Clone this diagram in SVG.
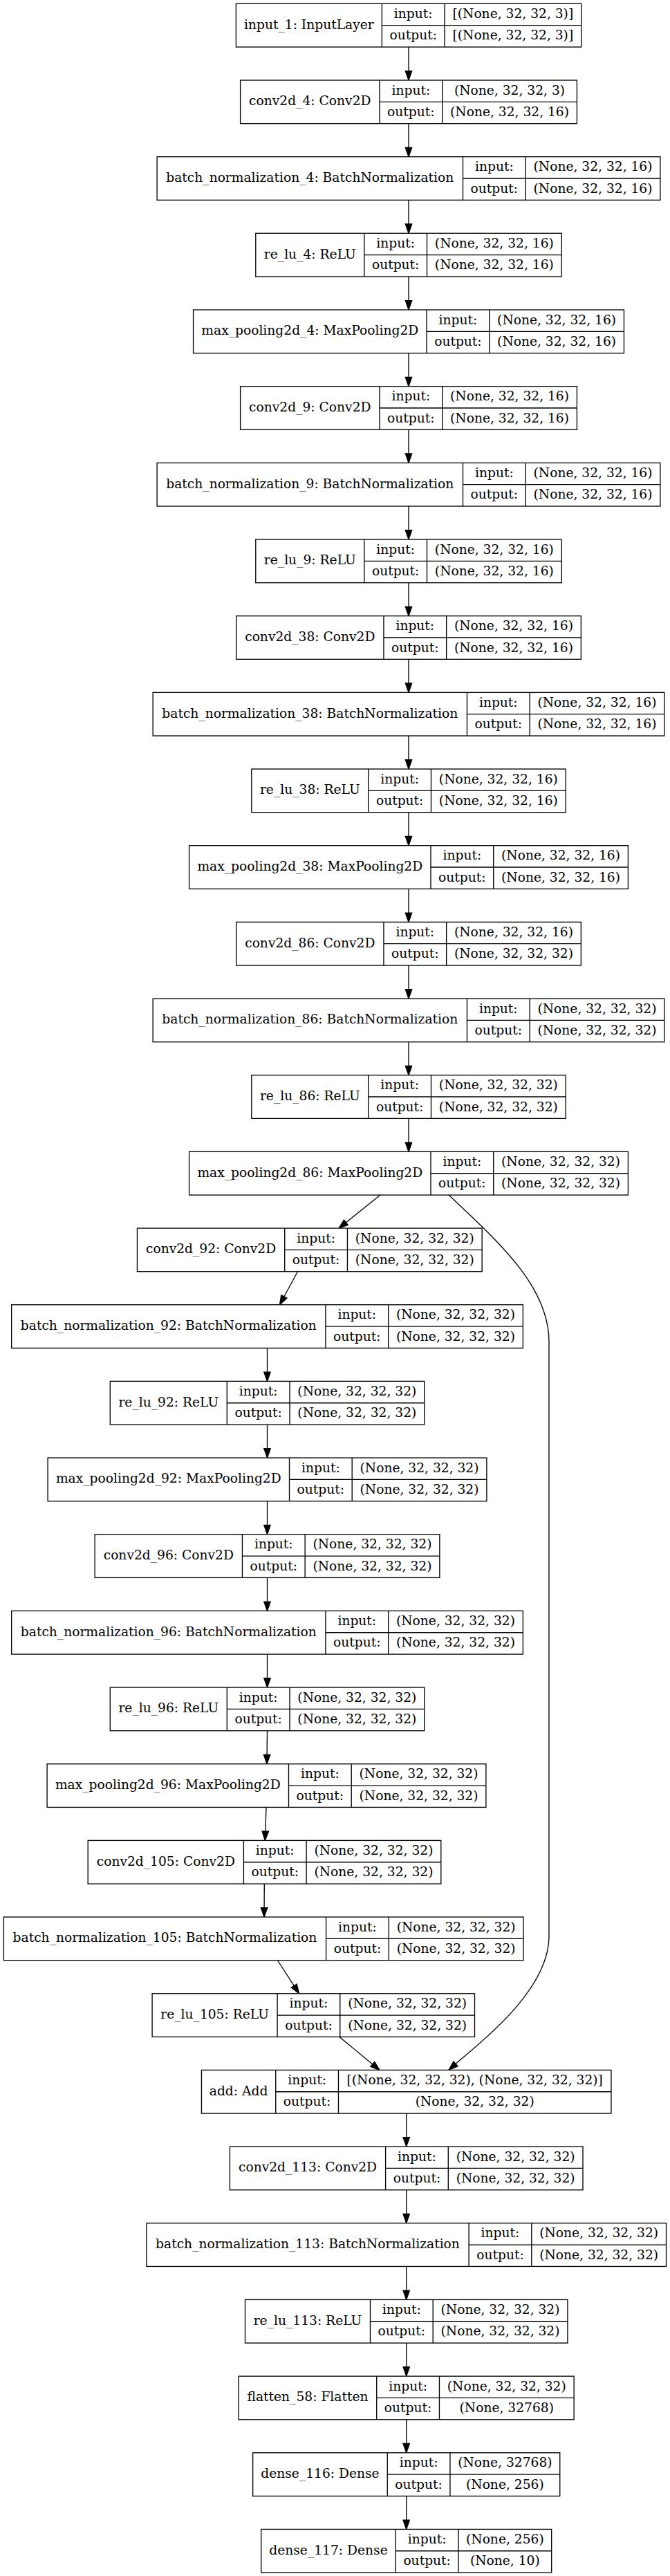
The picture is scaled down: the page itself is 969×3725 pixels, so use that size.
<svg xmlns="http://www.w3.org/2000/svg" width="969" height="3725" viewBox="0 0 969 3725">
<style>
.b{fill:#fff;stroke:#000;stroke-width:1.33}
.d{fill:none;stroke:#000;stroke-width:1.33}
.e{fill:none;stroke:#000;stroke-width:1.33}
text{font-family:"DejaVu Serif","Liberation Serif",serif;font-size:18.67px;text-anchor:middle;fill:#000}
</style>
<defs>
<marker id="ah" markerUnits="userSpaceOnUse" markerWidth="13.33" markerHeight="9.33" viewBox="0 0 13.33 9.33" refX="0" refY="4.665" orient="auto" overflow="visible">
<path d="M0,0 L13.33,4.665 L0,9.33 Z" fill="#000" stroke="#000" stroke-width="1.33"/>
</marker>
</defs>
<rect width="969" height="3725" fill="#fff"/>
<g id="connectors">
<path class="e" marker-end="url(#ah)" d="M591,68 V102.67"/>
<path class="e" marker-end="url(#ah)" d="M591,178.67 V213.34"/>
<path class="e" marker-end="url(#ah)" d="M591,289.34 V324.01"/>
<path class="e" marker-end="url(#ah)" d="M591,400.01 V434.68"/>
<path class="e" marker-end="url(#ah)" d="M591,510.68 V545.35"/>
<path class="e" marker-end="url(#ah)" d="M591,621.35 V656.02"/>
<path class="e" marker-end="url(#ah)" d="M591,732.02 V766.69"/>
<path class="e" marker-end="url(#ah)" d="M591,842.69 V877.36"/>
<path class="e" marker-end="url(#ah)" d="M591,953.36 V988.03"/>
<path class="e" marker-end="url(#ah)" d="M591,1064.03 V1098.7"/>
<path class="e" marker-end="url(#ah)" d="M591,1174.7 V1209.37"/>
<path class="e" marker-end="url(#ah)" d="M591,1285.37 V1320.04"/>
<path class="e" marker-end="url(#ah)" d="M591,1396.04 V1430.71"/>
<path class="e" marker-end="url(#ah)" d="M591,1506.71 V1541.38"/>
<path class="e" marker-end="url(#ah)" d="M591,1617.38 V1652.05"/>
<path class="e" marker-end="url(#ah)" d="M550,1728.05 L500.4,1767.7"/>
<path class="e" marker-end="url(#ah)" d="M430.5,1838.72 L410.85,1875"/>
<path class="e" marker-end="url(#ah)" d="M386.5,1949.39 V1984.06"/>
<path class="e" marker-end="url(#ah)" d="M386.5,2060.06 V2094.73"/>
<path class="e" marker-end="url(#ah)" d="M386.5,2170.73 V2205.4"/>
<path class="e" marker-end="url(#ah)" d="M386.5,2281.4 V2316.07"/>
<path class="e" marker-end="url(#ah)" d="M386.5,2392.07 V2426.74"/>
<path class="e" marker-end="url(#ah)" d="M386.5,2502.74 L386.1,2537.41"/>
<path class="e" marker-end="url(#ah)" d="M385,2613.41 L383.8,2648.08"/>
<path class="e" marker-end="url(#ah)" d="M382.3,2724.08 L382.1,2758.75"/>
<path class="e" marker-end="url(#ah)" d="M401.5,2834.75 L425.27,2871.55"/>
<path class="e" marker-end="url(#ah)" d="M491,2945.42 L538.73,2984.92"/>
<path class="e" marker-end="url(#ah)" d="M649,1728.05 C720,1795 794,1860 794,1940 L794,2800 C794,2880 689,2958 659,2984.5"/>
<path class="e" marker-end="url(#ah)" d="M587.7,3056.09 V3090.76"/>
<path class="e" marker-end="url(#ah)" d="M587.7,3166.76 V3201.43"/>
<path class="e" marker-end="url(#ah)" d="M587.7,3277.43 V3312.1"/>
<path class="e" marker-end="url(#ah)" d="M587.7,3388.1 V3422.77"/>
<path class="e" marker-end="url(#ah)" d="M587.7,3498.77 V3533.44"/>
<path class="e" marker-end="url(#ah)" d="M587.7,3609.44 V3644.11"/>
</g>
<g id="input_1" transform="translate(341.35,5.33)">
<rect class="b" width="499.3" height="62.67"/><path class="d" d="M211,0V62.67M301.7,0V62.67M211,31.33H499.3"/>
<text x="105.5" y="36.33">input_1: InputLayer</text><text x="256.35" y="20.67">input:</text><text x="256.35" y="52">output:</text>
<text x="400.5" y="20.67">[(None, 32, 32, 3)]</text><text x="400.5" y="52">[(None, 32, 32, 3)]</text>
</g>
<g id="conv2d_4" transform="translate(347.6,116)">
<rect class="b" width="486.8" height="62.67"/><path class="d" d="M201.4,0V62.67M292.1,0V62.67M201.4,31.33H486.8"/>
<text x="100.7" y="36.33">conv2d_4: Conv2D</text><text x="246.75" y="20.67">input:</text><text x="246.75" y="52">output:</text>
<text x="389.45" y="20.67">(None, 32, 32, 3)</text><text x="389.45" y="52">(None, 32, 32, 16)</text>
</g>
<g id="batch_normalization_4" transform="translate(227.1,226.67)">
<rect class="b" width="727.8" height="62.67"/><path class="d" d="M442.4,0V62.67M533.1,0V62.67M442.4,31.33H727.8"/>
<text x="221.2" y="36.33">batch_normalization_4: BatchNormalization</text><text x="487.75" y="20.67">input:</text><text x="487.75" y="52">output:</text>
<text x="630.45" y="20.67">(None, 32, 32, 16)</text><text x="630.45" y="52">(None, 32, 32, 16)</text>
</g>
<g id="re_lu_4" transform="translate(369.8,337.34)">
<rect class="b" width="442.4" height="62.67"/><path class="d" d="M157,0V62.67M247.7,0V62.67M157,31.33H442.4"/>
<text x="78.5" y="36.33">re_lu_4: ReLU</text><text x="202.35" y="20.67">input:</text><text x="202.35" y="52">output:</text>
<text x="345.05" y="20.67">(None, 32, 32, 16)</text><text x="345.05" y="52">(None, 32, 32, 16)</text>
</g>
<g id="max_pooling2d_4" transform="translate(279.55,448.01)">
<rect class="b" width="622.9" height="62.67"/><path class="d" d="M337.5,0V62.67M428.2,0V62.67M337.5,31.33H622.9"/>
<text x="168.75" y="36.33">max_pooling2d_4: MaxPooling2D</text><text x="382.85" y="20.67">input:</text><text x="382.85" y="52">output:</text>
<text x="525.55" y="20.67">(None, 32, 32, 16)</text><text x="525.55" y="52">(None, 32, 32, 16)</text>
</g>
<g id="conv2d_9" transform="translate(347.6,558.68)">
<rect class="b" width="486.8" height="62.67"/><path class="d" d="M201.4,0V62.67M292.1,0V62.67M201.4,31.33H486.8"/>
<text x="100.7" y="36.33">conv2d_9: Conv2D</text><text x="246.75" y="20.67">input:</text><text x="246.75" y="52">output:</text>
<text x="389.45" y="20.67">(None, 32, 32, 16)</text><text x="389.45" y="52">(None, 32, 32, 16)</text>
</g>
<g id="batch_normalization_9" transform="translate(227.1,669.35)">
<rect class="b" width="727.8" height="62.67"/><path class="d" d="M442.4,0V62.67M533.1,0V62.67M442.4,31.33H727.8"/>
<text x="221.2" y="36.33">batch_normalization_9: BatchNormalization</text><text x="487.75" y="20.67">input:</text><text x="487.75" y="52">output:</text>
<text x="630.45" y="20.67">(None, 32, 32, 16)</text><text x="630.45" y="52">(None, 32, 32, 16)</text>
</g>
<g id="re_lu_9" transform="translate(369.8,780.02)">
<rect class="b" width="442.4" height="62.67"/><path class="d" d="M157,0V62.67M247.7,0V62.67M157,31.33H442.4"/>
<text x="78.5" y="36.33">re_lu_9: ReLU</text><text x="202.35" y="20.67">input:</text><text x="202.35" y="52">output:</text>
<text x="345.05" y="20.67">(None, 32, 32, 16)</text><text x="345.05" y="52">(None, 32, 32, 16)</text>
</g>
<g id="conv2d_38" transform="translate(341.65,890.69)">
<rect class="b" width="498.7" height="62.67"/><path class="d" d="M213.3,0V62.67M304,0V62.67M213.3,31.33H498.7"/>
<text x="106.65" y="36.33">conv2d_38: Conv2D</text><text x="258.65" y="20.67">input:</text><text x="258.65" y="52">output:</text>
<text x="401.35" y="20.67">(None, 32, 32, 16)</text><text x="401.35" y="52">(None, 32, 32, 16)</text>
</g>
<g id="batch_normalization_38" transform="translate(221.15,1001.36)">
<rect class="b" width="739.7" height="62.67"/><path class="d" d="M454.3,0V62.67M545,0V62.67M454.3,31.33H739.7"/>
<text x="227.15" y="36.33">batch_normalization_38: BatchNormalization</text><text x="499.65" y="20.67">input:</text><text x="499.65" y="52">output:</text>
<text x="642.35" y="20.67">(None, 32, 32, 16)</text><text x="642.35" y="52">(None, 32, 32, 16)</text>
</g>
<g id="re_lu_38" transform="translate(363.8,1112.03)">
<rect class="b" width="454.4" height="62.67"/><path class="d" d="M169,0V62.67M259.7,0V62.67M169,31.33H454.4"/>
<text x="84.5" y="36.33">re_lu_38: ReLU</text><text x="214.35" y="20.67">input:</text><text x="214.35" y="52">output:</text>
<text x="357.05" y="20.67">(None, 32, 32, 16)</text><text x="357.05" y="52">(None, 32, 32, 16)</text>
</g>
<g id="max_pooling2d_38" transform="translate(273.6,1222.7)">
<rect class="b" width="634.8" height="62.67"/><path class="d" d="M349.4,0V62.67M440.1,0V62.67M349.4,31.33H634.8"/>
<text x="174.7" y="36.33">max_pooling2d_38: MaxPooling2D</text><text x="394.75" y="20.67">input:</text><text x="394.75" y="52">output:</text>
<text x="537.45" y="20.67">(None, 32, 32, 16)</text><text x="537.45" y="52">(None, 32, 32, 16)</text>
</g>
<g id="conv2d_86" transform="translate(341.65,1333.37)">
<rect class="b" width="498.7" height="62.67"/><path class="d" d="M213.3,0V62.67M304,0V62.67M213.3,31.33H498.7"/>
<text x="106.65" y="36.33">conv2d_86: Conv2D</text><text x="258.65" y="20.67">input:</text><text x="258.65" y="52">output:</text>
<text x="401.35" y="20.67">(None, 32, 32, 16)</text><text x="401.35" y="52">(None, 32, 32, 32)</text>
</g>
<g id="batch_normalization_86" transform="translate(221.15,1444.04)">
<rect class="b" width="739.7" height="62.67"/><path class="d" d="M454.3,0V62.67M545,0V62.67M454.3,31.33H739.7"/>
<text x="227.15" y="36.33">batch_normalization_86: BatchNormalization</text><text x="499.65" y="20.67">input:</text><text x="499.65" y="52">output:</text>
<text x="642.35" y="20.67">(None, 32, 32, 32)</text><text x="642.35" y="52">(None, 32, 32, 32)</text>
</g>
<g id="re_lu_86" transform="translate(363.8,1554.71)">
<rect class="b" width="454.4" height="62.67"/><path class="d" d="M169,0V62.67M259.7,0V62.67M169,31.33H454.4"/>
<text x="84.5" y="36.33">re_lu_86: ReLU</text><text x="214.35" y="20.67">input:</text><text x="214.35" y="52">output:</text>
<text x="357.05" y="20.67">(None, 32, 32, 32)</text><text x="357.05" y="52">(None, 32, 32, 32)</text>
</g>
<g id="max_pooling2d_86" transform="translate(273.6,1665.38)">
<rect class="b" width="634.8" height="62.67"/><path class="d" d="M349.4,0V62.67M440.1,0V62.67M349.4,31.33H634.8"/>
<text x="174.7" y="36.33">max_pooling2d_86: MaxPooling2D</text><text x="394.75" y="20.67">input:</text><text x="394.75" y="52">output:</text>
<text x="537.45" y="20.67">(None, 32, 32, 32)</text><text x="537.45" y="52">(None, 32, 32, 32)</text>
</g>
<g id="conv2d_92" transform="translate(198.45,1776.05)">
<rect class="b" width="498.7" height="62.67"/><path class="d" d="M213.3,0V62.67M304,0V62.67M213.3,31.33H498.7"/>
<text x="106.65" y="36.33">conv2d_92: Conv2D</text><text x="258.65" y="20.67">input:</text><text x="258.65" y="52">output:</text>
<text x="401.35" y="20.67">(None, 32, 32, 32)</text><text x="401.35" y="52">(None, 32, 32, 32)</text>
</g>
<g id="batch_normalization_92" transform="translate(16.65,1886.72)">
<rect class="b" width="739.7" height="62.67"/><path class="d" d="M454.3,0V62.67M545,0V62.67M454.3,31.33H739.7"/>
<text x="227.15" y="36.33">batch_normalization_92: BatchNormalization</text><text x="499.65" y="20.67">input:</text><text x="499.65" y="52">output:</text>
<text x="642.35" y="20.67">(None, 32, 32, 32)</text><text x="642.35" y="52">(None, 32, 32, 32)</text>
</g>
<g id="re_lu_92" transform="translate(159.3,1997.39)">
<rect class="b" width="454.4" height="62.67"/><path class="d" d="M169,0V62.67M259.7,0V62.67M169,31.33H454.4"/>
<text x="84.5" y="36.33">re_lu_92: ReLU</text><text x="214.35" y="20.67">input:</text><text x="214.35" y="52">output:</text>
<text x="357.05" y="20.67">(None, 32, 32, 32)</text><text x="357.05" y="52">(None, 32, 32, 32)</text>
</g>
<g id="max_pooling2d_92" transform="translate(69.1,2108.06)">
<rect class="b" width="634.8" height="62.67"/><path class="d" d="M349.4,0V62.67M440.1,0V62.67M349.4,31.33H634.8"/>
<text x="174.7" y="36.33">max_pooling2d_92: MaxPooling2D</text><text x="394.75" y="20.67">input:</text><text x="394.75" y="52">output:</text>
<text x="537.45" y="20.67">(None, 32, 32, 32)</text><text x="537.45" y="52">(None, 32, 32, 32)</text>
</g>
<g id="conv2d_96" transform="translate(137.15,2218.73)">
<rect class="b" width="498.7" height="62.67"/><path class="d" d="M213.3,0V62.67M304,0V62.67M213.3,31.33H498.7"/>
<text x="106.65" y="36.33">conv2d_96: Conv2D</text><text x="258.65" y="20.67">input:</text><text x="258.65" y="52">output:</text>
<text x="401.35" y="20.67">(None, 32, 32, 32)</text><text x="401.35" y="52">(None, 32, 32, 32)</text>
</g>
<g id="batch_normalization_96" transform="translate(16.65,2329.4)">
<rect class="b" width="739.7" height="62.67"/><path class="d" d="M454.3,0V62.67M545,0V62.67M454.3,31.33H739.7"/>
<text x="227.15" y="36.33">batch_normalization_96: BatchNormalization</text><text x="499.65" y="20.67">input:</text><text x="499.65" y="52">output:</text>
<text x="642.35" y="20.67">(None, 32, 32, 32)</text><text x="642.35" y="52">(None, 32, 32, 32)</text>
</g>
<g id="re_lu_96" transform="translate(159.3,2440.07)">
<rect class="b" width="454.4" height="62.67"/><path class="d" d="M169,0V62.67M259.7,0V62.67M169,31.33H454.4"/>
<text x="84.5" y="36.33">re_lu_96: ReLU</text><text x="214.35" y="20.67">input:</text><text x="214.35" y="52">output:</text>
<text x="357.05" y="20.67">(None, 32, 32, 32)</text><text x="357.05" y="52">(None, 32, 32, 32)</text>
</g>
<g id="max_pooling2d_96" transform="translate(68.1,2550.74)">
<rect class="b" width="634.8" height="62.67"/><path class="d" d="M349.4,0V62.67M440.1,0V62.67M349.4,31.33H634.8"/>
<text x="174.7" y="36.33">max_pooling2d_96: MaxPooling2D</text><text x="394.75" y="20.67">input:</text><text x="394.75" y="52">output:</text>
<text x="537.45" y="20.67">(None, 32, 32, 32)</text><text x="537.45" y="52">(None, 32, 32, 32)</text>
</g>
<g id="conv2d_105" transform="translate(127.2,2661.41)">
<rect class="b" width="510.6" height="62.67"/><path class="d" d="M225.2,0V62.67M315.9,0V62.67M225.2,31.33H510.6"/>
<text x="112.6" y="36.33">conv2d_105: Conv2D</text><text x="270.55" y="20.67">input:</text><text x="270.55" y="52">output:</text>
<text x="413.25" y="20.67">(None, 32, 32, 32)</text><text x="413.25" y="52">(None, 32, 32, 32)</text>
</g>
<g id="batch_normalization_105" transform="translate(5.4,2772.08)">
<rect class="b" width="751.6" height="62.67"/><path class="d" d="M466.2,0V62.67M556.9,0V62.67M466.2,31.33H751.6"/>
<text x="233.1" y="36.33">batch_normalization_105: BatchNormalization</text><text x="511.55" y="20.67">input:</text><text x="511.55" y="52">output:</text>
<text x="654.25" y="20.67">(None, 32, 32, 32)</text><text x="654.25" y="52">(None, 32, 32, 32)</text>
</g>
<g id="re_lu_105" transform="translate(220.1,2882.75)">
<rect class="b" width="466.4" height="62.67"/><path class="d" d="M181,0V62.67M271.7,0V62.67M181,31.33H466.4"/>
<text x="90.5" y="36.33">re_lu_105: ReLU</text><text x="226.35" y="20.67">input:</text><text x="226.35" y="52">output:</text>
<text x="369.05" y="20.67">(None, 32, 32, 32)</text><text x="369.05" y="52">(None, 32, 32, 32)</text>
</g>
<g id="add" transform="translate(291.45,2993.42)">
<rect class="b" width="592.5" height="62.67"/><path class="d" d="M107.3,0V62.67M198,0V62.67M107.3,31.33H592.5"/>
<text x="53.65" y="36.33">add: Add</text><text x="152.65" y="20.67">input:</text><text x="152.65" y="52">output:</text>
<text x="395.25" y="20.67">[(None, 32, 32, 32), (None, 32, 32, 32)]</text><text x="395.25" y="52">(None, 32, 32, 32)</text>
</g>
<g id="conv2d_113" transform="translate(332.4,3104.09)">
<rect class="b" width="510.6" height="62.67"/><path class="d" d="M225.2,0V62.67M315.9,0V62.67M225.2,31.33H510.6"/>
<text x="112.6" y="36.33">conv2d_113: Conv2D</text><text x="270.55" y="20.67">input:</text><text x="270.55" y="52">output:</text>
<text x="413.25" y="20.67">(None, 32, 32, 32)</text><text x="413.25" y="52">(None, 32, 32, 32)</text>
</g>
<g id="batch_normalization_113" transform="translate(211.9,3214.76)">
<rect class="b" width="751.6" height="62.67"/><path class="d" d="M466.2,0V62.67M556.9,0V62.67M466.2,31.33H751.6"/>
<text x="233.1" y="36.33">batch_normalization_113: BatchNormalization</text><text x="511.55" y="20.67">input:</text><text x="511.55" y="52">output:</text>
<text x="654.25" y="20.67">(None, 32, 32, 32)</text><text x="654.25" y="52">(None, 32, 32, 32)</text>
</g>
<g id="re_lu_113" transform="translate(354.5,3325.43)">
<rect class="b" width="466.4" height="62.67"/><path class="d" d="M181,0V62.67M271.7,0V62.67M181,31.33H466.4"/>
<text x="90.5" y="36.33">re_lu_113: ReLU</text><text x="226.35" y="20.67">input:</text><text x="226.35" y="52">output:</text>
<text x="369.05" y="20.67">(None, 32, 32, 32)</text><text x="369.05" y="52">(None, 32, 32, 32)</text>
</g>
<g id="flatten_58" transform="translate(345.25,3436.1)">
<rect class="b" width="484.9" height="62.67"/><path class="d" d="M199.5,0V62.67M290.2,0V62.67M199.5,31.33H484.9"/>
<text x="99.75" y="36.33">flatten_58: Flatten</text><text x="244.85" y="20.67">input:</text><text x="244.85" y="52">output:</text>
<text x="387.55" y="20.67">(None, 32, 32, 32)</text><text x="387.55" y="52">(None, 32768)</text>
</g>
<g id="dense_116" transform="translate(365.65,3546.77)">
<rect class="b" width="444.1" height="62.67"/><path class="d" d="M194.6,0V62.67M285.3,0V62.67M194.6,31.33H444.1"/>
<text x="97.3" y="36.33">dense_116: Dense</text><text x="239.95" y="20.67">input:</text><text x="239.95" y="52">output:</text>
<text x="364.7" y="20.67">(None, 32768)</text><text x="364.7" y="52">(None, 256)</text>
</g>
<g id="dense_117" transform="translate(377.7,3657.44)">
<rect class="b" width="420" height="62.67"/><path class="d" d="M194.6,0V62.67M285.3,0V62.67M194.6,31.33H420"/>
<text x="97.3" y="36.33">dense_117: Dense</text><text x="239.95" y="20.67">input:</text><text x="239.95" y="52">output:</text>
<text x="352.65" y="20.67">(None, 256)</text><text x="352.65" y="52">(None, 10)</text>
</g>
</svg>
